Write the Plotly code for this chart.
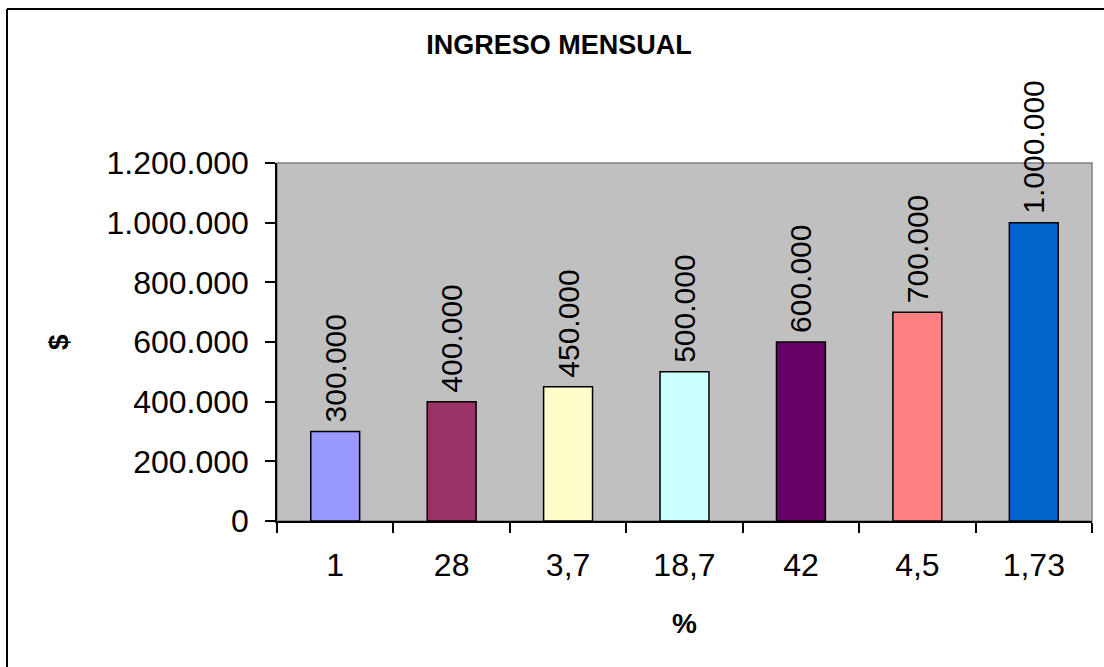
import plotly.graph_objects as go

categories = ["1", "28", "3,7", "18,7", "42", "4,5", "1,73"]
values = [300000, 400000, 450000, 500000, 600000, 700000, 1000000]
bar_colors = ["#9999FF", "#993366", "#FFFFCC", "#CCFFFF", "#660066", "#FF8080", "#0066CC"]
y_ticks = [0, 200000, 400000, 600000, 800000, 1000000, 1200000]

W, H = 1104, 667
L, R, T, B = 277, 12, 163, 146
pw = W - L - R
ph = H - T - B

def px(x):
    return (x - L) / pw

def py(y):
    return 1 - (y - T) / ph

FONT = "Liberation Sans, Arial, sans-serif"

fig = go.Figure(go.Bar(
    x=categories,
    y=values,
    marker=dict(color=bar_colors, line=dict(color="black", width=1.5)),
    text=values,
    texttemplate="\u2009%{y:,}",
    textposition="outside",
    textangle=-90,
    constraintext="none",
    cliponaxis=False,
    textfont=dict(family=FONT, size=30, color="black"),
))

fig.update_layout(
    width=W, height=H,
    margin=dict(l=L, r=R, t=T, b=B),
    paper_bgcolor="white",
    plot_bgcolor="#C0C0C0",
    separators=",.",
    bargap=0.58,
    showlegend=False,
    font=dict(family=FONT, color="black"),
    title=dict(text="<b>INGRESO MENSUAL</b>", x=px(559), xref="paper", xanchor="center",
               y=1 - 45 / H, yref="container", yanchor="middle",
               font=dict(family=FONT, size=27, color="black")),
    xaxis=dict(
        type="category",
        showline=True, linecolor="black", linewidth=1.5,
        ticks="outside", ticklen=10, tickcolor="black", tickwidth=1.5,
        tickson="boundaries",
        ticklabelstandoff=15,
        tickfont=dict(family=FONT, size=32, color="black"),
        showgrid=False, zeroline=False,
    ),
    yaxis=dict(
        range=[0, 1200000],
        tickvals=y_ticks,
        tickformat=",d",
        showline=True, linecolor="black", linewidth=1.5,
        ticks="outside", ticklen=10, tickcolor="black", tickwidth=1.5,
        ticklabelstandoff=10,
        tickfont=dict(family=FONT, size=32, color="black"),
        showgrid=False, zeroline=False,
    ),
    shapes=[
        dict(type="rect", xref="paper", yref="paper", x0=0, x1=1, y0=0, y1=1,
             line=dict(color="#808080", width=1.5), layer="below"),
        dict(type="line", xref="paper", yref="paper", x0=px(7), x1=px(7), y0=py(9), y1=py(H + 5),
             line=dict(color="black", width=2)),
        dict(type="line", xref="paper", yref="paper", x0=px(7), x1=px(W + 5), y0=py(9), y1=py(9),
             line=dict(color="black", width=2)),
    ],
    annotations=[
        dict(text="<b>%</b>", xref="paper", yref="paper", x=px(684), y=py(623),
             xanchor="center", yanchor="middle", showarrow=False,
             font=dict(family=FONT, size=28, color="black")),
        dict(text="<b>$</b>", xref="paper", yref="paper", x=px(58), y=py(342),
             xanchor="center", yanchor="middle", showarrow=False, textangle=-90,
             font=dict(family=FONT, size=28, color="black")),
    ],
)

fig.write_html("out.html", config={"displayModeBar": False},
               post_script="document.body.style.margin='0';document.body.style.overflow='hidden';")
